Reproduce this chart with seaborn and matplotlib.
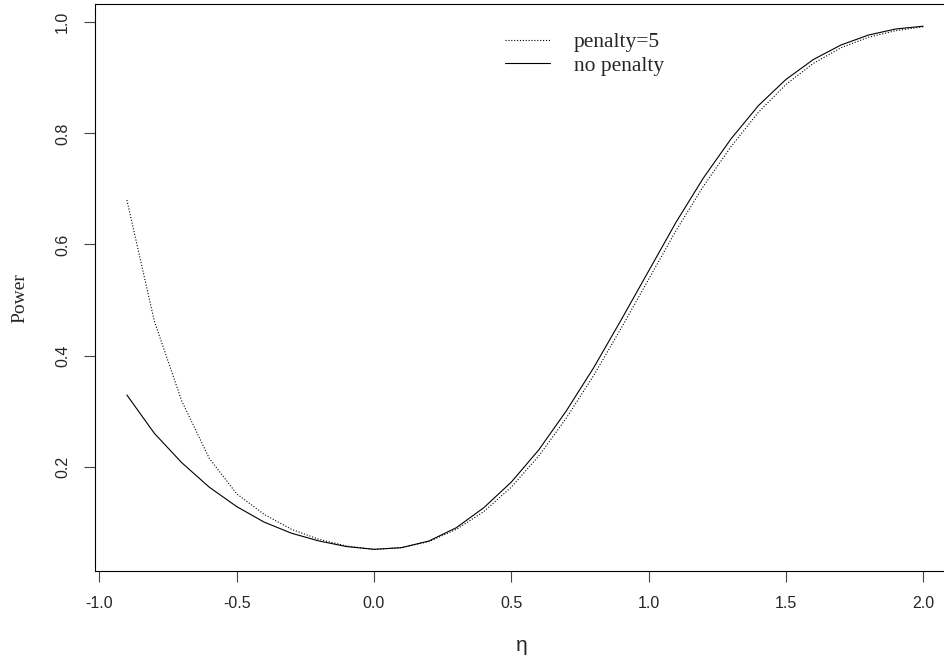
import numpy as np
import matplotlib
matplotlib.use("Agg")
import matplotlib.pyplot as plt
import seaborn as sns

# power curves
eta = [-0.9, -0.8, -0.7, -0.6, -0.5, -0.4, -0.3, -0.2, -0.1, 0.0,
       0.1, 0.2, 0.3, 0.4, 0.5, 0.6, 0.7, 0.8, 0.9, 1.0,
       1.1, 1.2, 1.3, 1.4, 1.5, 1.6, 1.7, 1.8, 1.9, 2.0]
power_penalty = [0.680, 0.462, 0.318, 0.215, 0.151, 0.114, 0.087, 0.069, 0.057, 0.051,
                 0.054, 0.065, 0.087, 0.119, 0.163, 0.219, 0.287, 0.364, 0.449, 0.537,
                 0.625, 0.705, 0.776, 0.838, 0.888, 0.926, 0.954, 0.973, 0.985, 0.992]
power_none = [0.329, 0.260, 0.207, 0.163, 0.128, 0.100, 0.080, 0.066, 0.056, 0.051,
              0.054, 0.066, 0.090, 0.126, 0.172, 0.230, 0.300, 0.378, 0.464, 0.552,
              0.640, 0.720, 0.790, 0.850, 0.897, 0.933, 0.959, 0.977, 0.988, 0.993]
labels = ["penalty=5", "no penalty"]
xticks = [-1.0, -0.5, 0.0, 0.5, 1.0, 1.5, 2.0]
yticks = [0.2, 0.4, 0.6, 0.8, 1.0]

sns.set_style("ticks")
plt.rcParams["font.family"] = ["Liberation Sans", "DejaVu Sans"]
serif = ["Liberation Serif", "DejaVu Serif"]

W, H = 945, 662
fig = plt.figure(figsize=(W / 100, H / 100), dpi=100)
# R-like plot region (right edge of the box falls outside the image)
ax = fig.add_axes([95 / W, 1 - 571 / H, (955 - 95) / W, (571 - 4) / H])

sns.lineplot(x=eta, y=power_penalty, ax=ax, color="black", lw=0.8,
             linestyle=(0, (1, 1.6)), label=labels[0])
sns.lineplot(x=eta, y=power_none, ax=ax, color="black", lw=0.8,
             label=labels[1])

ax.set_xlim(-1.016, 2.116)
ax.set_ylim(0.012, 1.033)
ax.set_xticks(xticks)
ax.set_xticklabels([f"{v:.1f}" for v in xticks])
ax.set_yticks(yticks)
ax.set_yticklabels([f"{v:.1f}" for v in yticks], rotation=90, va="center")

for s in ax.spines.values():
    s.set_visible(True)
    s.set_linewidth(0.8)
    s.set_color("black")
ax.tick_params(axis="both", direction="out", length=8, width=0.8,
               color="#444444", labelsize=11.5, pad=10)

ax.set_xlabel("η", fontsize=15)
ax.xaxis.set_label_coords(0.4965, -0.115)
ax.set_ylabel("Power", fontsize=14, family=serif)
ax.yaxis.set_label_coords(-0.077, 0.481)

ax.legend(loc="upper left", bbox_to_anchor=(505 / W, 1 - 32 / H),
          bbox_transform=fig.transFigure, frameon=False,
          prop={"family": serif, "size": 15.5},
          handlelength=2.1, handletextpad=1.1, labelspacing=0.18,
          borderpad=0, borderaxespad=0)

fig.savefig("out.png", dpi=100)
